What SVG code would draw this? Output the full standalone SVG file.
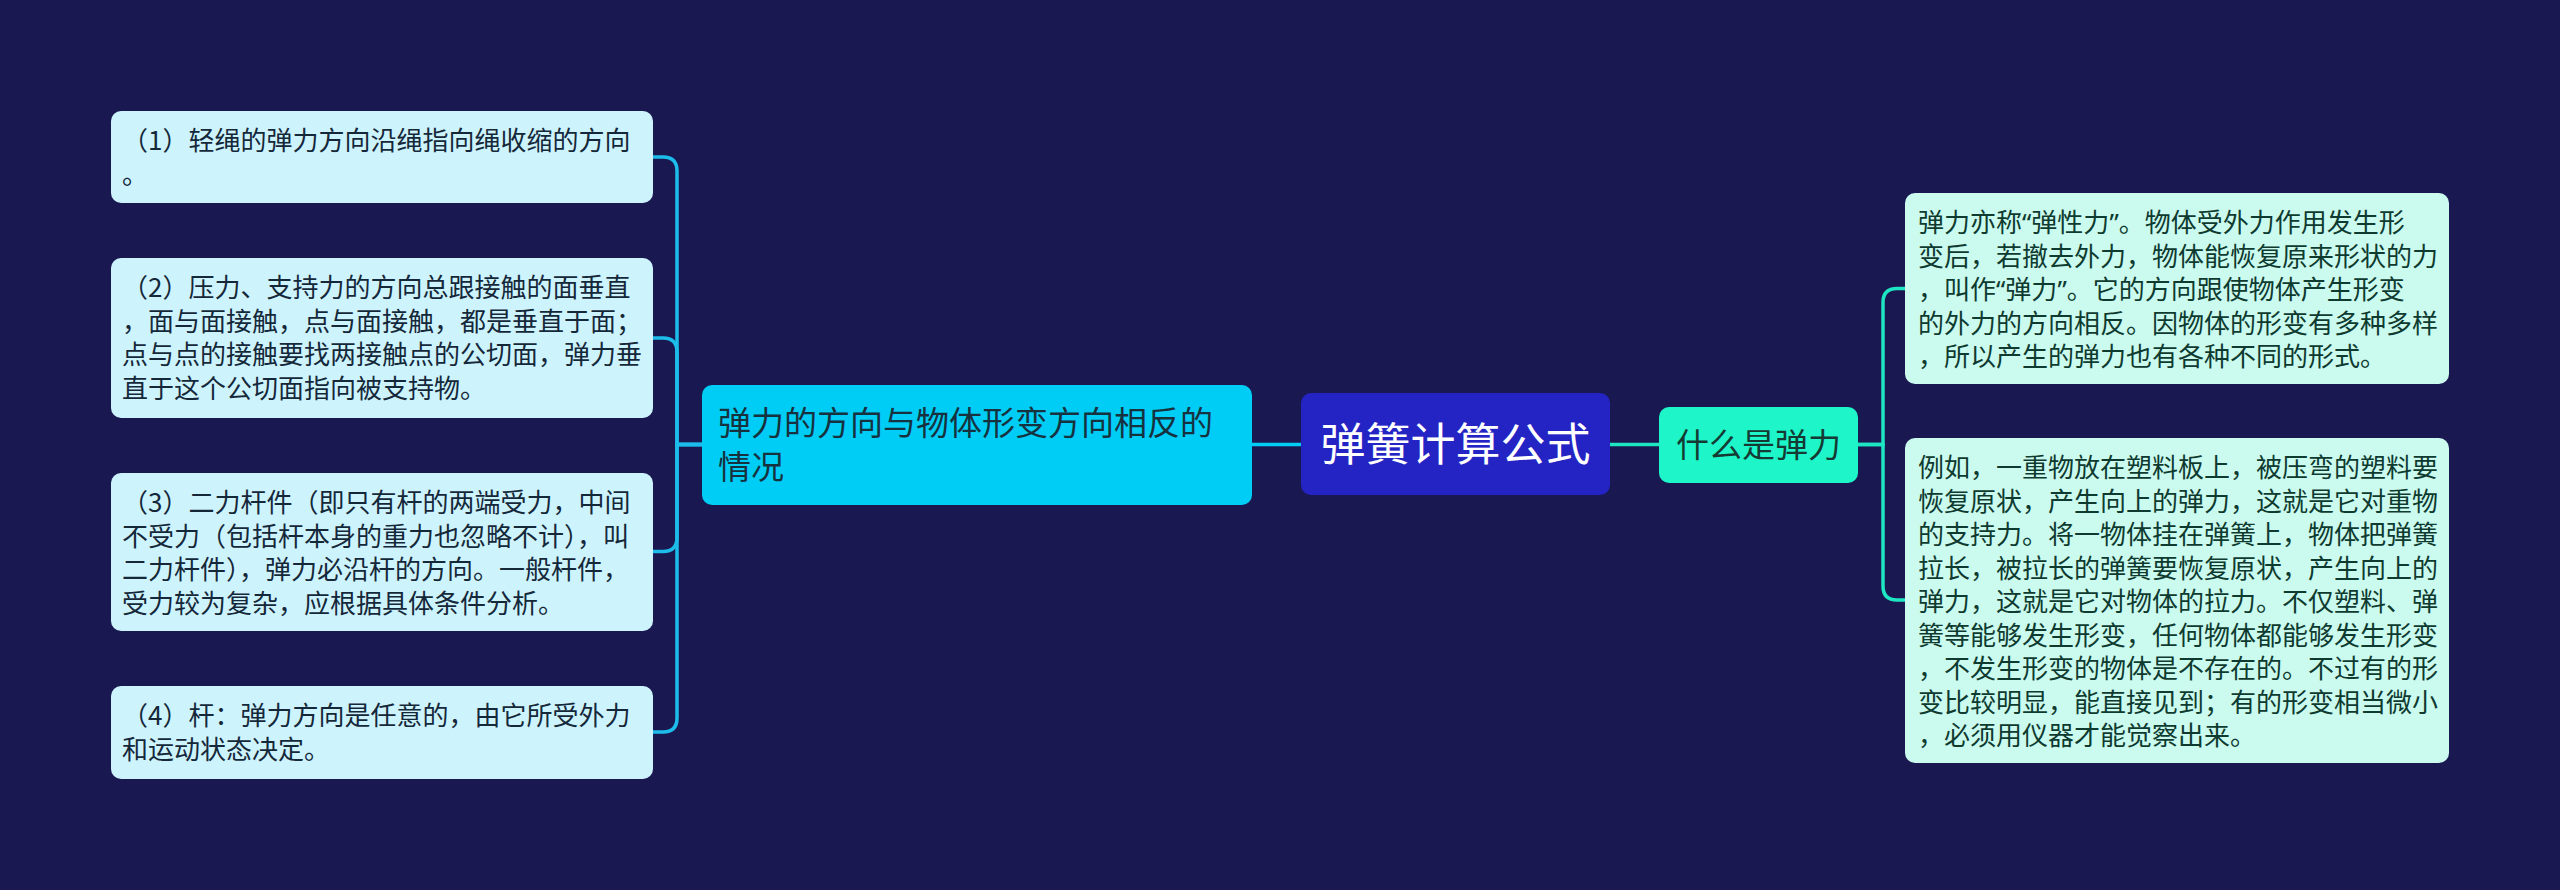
<svg xmlns="http://www.w3.org/2000/svg" width="2560" height="890" viewBox="0 0 2560 890">
<style>
text{font-family:"Noto Sans CJK SC","Noto Sans",sans-serif;}
.q{font-family:"Noto Sans","Noto Sans CJK SC",sans-serif;}
.leafL rect{fill:#cdf4fd;}
.leafL text{font-size:26px;fill:#15283a;}
.leafR rect{fill:#cbfbef;}
.leafR text{font-size:26px;fill:#0e3a30;}
.cl{fill:none;stroke:#1cbdeb;stroke-width:3.5;}
.cr{fill:none;stroke:#1ee6c2;stroke-width:3.5;}
</style>
<rect x="0" y="0" width="2560" height="890" fill="#1a1851"/>
<g id="connectors">
  <path class="cl" d="M702,444.5 H677 V171 Q677,157 663,157 H653"/>
  <path class="cl" d="M702,444.5 H677 V352 Q677,338 663,338 H653"/>
  <path class="cl" d="M702,444.5 H677 V537.5 Q677,551.5 663,551.5 H653"/>
  <path class="cl" d="M702,444.5 H677 V718 Q677,732 663,732 H653"/>
  <path fill="none" stroke="#00cdf5" stroke-width="3.5" d="M1252,444.5 H1301"/>
  <path class="cr" d="M1610,444.5 H1659"/>
  <path class="cr" d="M1858,444.5 H1883 V302.5 Q1883,288.5 1897,288.5 H1905"/>
  <path class="cr" d="M1858,444.5 H1883 V586 Q1883,600 1897,600 H1905"/>
</g>
<g id="root">
  <rect x="1301" y="393" width="309" height="102" rx="10" fill="#2424c4"/>
  <text x="1455.5" y="461" font-size="45" fill="#ffffff" text-anchor="middle">弹簧计算公式</text>
</g>
<g id="branch-left">
  <rect x="702" y="385" width="550" height="120" rx="10" fill="#00cdf5"/>
  <text font-size="33" fill="#17323f"><tspan x="718" y="435">弹力的方向与物体形变方向相反的</tspan><tspan x="718" y="479">情况</tspan></text>
</g>
<g id="branch-right">
  <rect x="1659" y="407" width="199" height="76" rx="10" fill="#1ef5c8"/>
  <text x="1758.5" y="457" font-size="33" fill="#143a33" text-anchor="middle">什么是弹力</text>
</g>
<g id="leaf1" class="leafL">
  <rect x="111" y="111" width="542" height="92" rx="10"/>
  <text><tspan x="122" y="150">（1）轻绳的弹力方向沿绳指向绳收缩的方向</tspan><tspan x="122" y="183.5">。</tspan></text>
</g>
<g id="leaf2" class="leafL">
  <rect x="111" y="258" width="542" height="160" rx="10"/>
  <text><tspan x="122" y="297">（2）压力、支持力的方向总跟接触的面垂直</tspan><tspan x="122" y="330.5">，面与面接触，点与面接触，都是垂直于面；</tspan><tspan x="122" y="364">点与点的接触要找两接触点的公切面，弹力垂</tspan><tspan x="122" y="397.5">直于这个公切面指向被支持物。</tspan></text>
</g>
<g id="leaf3" class="leafL">
  <rect x="111" y="473" width="542" height="158" rx="10"/>
  <text><tspan x="122" y="512">（3）二力杆件（即只有杆的两端受力，中间</tspan><tspan x="122" y="545.5">不受力（包括杆本身的重力也忽略不计），叫</tspan><tspan x="122" y="579">二力杆件），弹力必沿杆的方向。一般杆件，</tspan><tspan x="122" y="612.5">受力较为复杂，应根据具体条件分析。</tspan></text>
</g>
<g id="leaf4" class="leafL">
  <rect x="111" y="686" width="542" height="93" rx="10"/>
  <text><tspan x="122" y="725">（4）杆：弹力方向是任意的，由它所受外力</tspan><tspan x="122" y="758.5">和运动状态决定。</tspan></text>
</g>
<g id="leaf5" class="leafR">
  <rect x="1905" y="193" width="544" height="191" rx="10"/>
  <text><tspan x="1918" y="232">弹力亦称<tspan class="q">“</tspan>弹性力<tspan class="q">”</tspan>。物体受外力作用发生形</tspan><tspan x="1918" y="265.5">变后，若撤去外力，物体能恢复原来形状的力</tspan><tspan x="1918" y="299">，叫作<tspan class="q">“</tspan>弹力<tspan class="q">”</tspan>。它的方向跟使物体产生形变</tspan><tspan x="1918" y="332.5">的外力的方向相反。因物体的形变有多种多样</tspan><tspan x="1918" y="366">，所以产生的弹力也有各种不同的形式。</tspan></text>
</g>
<g id="leaf6" class="leafR">
  <rect x="1905" y="438" width="544" height="325" rx="10"/>
  <text><tspan x="1918" y="477">例如，一重物放在塑料板上，被压弯的塑料要</tspan><tspan x="1918" y="510.5">恢复原状，产生向上的弹力，这就是它对重物</tspan><tspan x="1918" y="544">的支持力。将一物体挂在弹簧上，物体把弹簧</tspan><tspan x="1918" y="577.5">拉长，被拉长的弹簧要恢复原状，产生向上的</tspan><tspan x="1918" y="611">弹力，这就是它对物体的拉力。不仅塑料、弹</tspan><tspan x="1918" y="644.5">簧等能够发生形变，任何物体都能够发生形变</tspan><tspan x="1918" y="678">，不发生形变的物体是不存在的。不过有的形</tspan><tspan x="1918" y="711.5">变比较明显，能直接见到；有的形变相当微小</tspan><tspan x="1918" y="745">，必须用仪器才能觉察出来。</tspan></text>
</g>
</svg>
